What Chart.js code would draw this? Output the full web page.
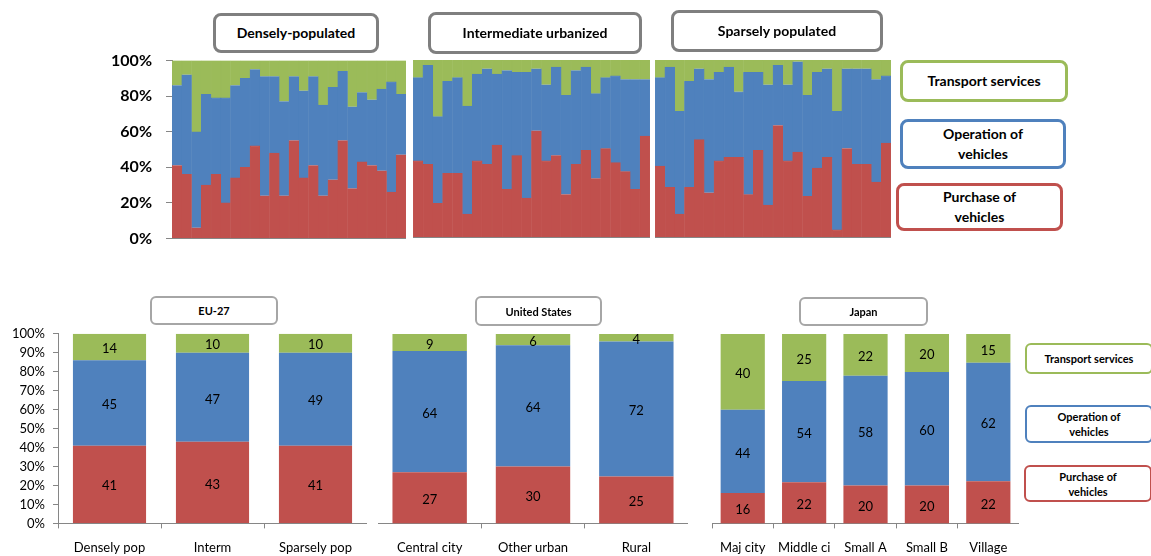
<!DOCTYPE html>
<html>
<head>
<meta charset="utf-8">
<title>Household transport spending</title>
<script src="https://cdn.jsdelivr.net/npm/chart.js@4.4.0/dist/chart.umd.min.js"></script>
<style>
  body { margin: 0; width: 1151px; height: 556px; background: #fff; position: relative; overflow: hidden; font-family: Lato, "Noto Sans", sans-serif; }
  .panel { position: absolute; }
  .box { position: absolute; box-sizing: border-box; background: #fff; display: flex; align-items: center; justify-content: center; text-align: center; font-weight: bold; color: #000; }
  .big { border-width: 3px; border-style: solid; border-radius: 8px; font-size: 14px; line-height: 20px; }
  .small { border-width: 2.5px; border-style: solid; border-radius: 6px; font-size: 11px; line-height: 15px; }
</style>
</head>
<body>

<div class="panel" style="left:90px;top:37px;width:316px;height:225px"><canvas id="dense"></canvas></div>
<div class="panel" style="left:413px;top:48px;width:237px;height:209px"><canvas id="interm"></canvas></div>
<div class="panel" style="left:655px;top:48px;width:236px;height:209px"><canvas id="sparse"></canvas></div>

<div class="box big" style="left:213px;top:13px;width:166px;height:40px;border-color:#7f7f7f">Densely-populated</div>
<div class="box big" style="left:428px;top:12px;width:214px;height:42px;border-color:#7f7f7f">Intermediate urbanized</div>
<div class="box big" style="left:671px;top:10px;width:212px;height:42px;border-color:#7f7f7f">Sparsely populated</div>

<div class="box big" style="left:900px;top:60px;width:168px;height:42px;border-color:#9BBB59">Transport services</div>
<div class="box big" style="left:900px;top:119px;width:166px;height:50px;border-color:#4F81BD">Operation of<br>vehicles</div>
<div class="box big" style="left:896px;top:183px;width:167px;height:48px;border-color:#C0504D">Purchase of<br>vehicles</div>

<div class="panel" style="left:0px;top:318px;width:367px;height:250px"><canvas id="eu"></canvas></div>
<div class="panel" style="left:378px;top:320px;width:310px;height:248px"><canvas id="us"></canvas></div>
<div class="panel" style="left:708px;top:320px;width:311px;height:248px"><canvas id="japan"></canvas></div>

<div class="box small" style="left:150px;top:296px;width:128px;height:29px;border-color:#a6a6a6">EU-27</div>
<div class="box small" style="left:475px;top:296px;width:127px;height:30px;border-color:#a6a6a6">United States</div>
<div class="box small" style="left:799px;top:297px;width:129px;height:29px;border-color:#a6a6a6">Japan</div>

<div class="box small" style="left:1025px;top:343px;width:128px;height:31px;border-color:#9BBB59">Transport services</div>
<div class="box small" style="left:1025px;top:405px;width:128px;height:38px;border-color:#4F81BD">Operation of<br>vehicles</div>
<div class="box small" style="left:1024px;top:465px;width:128px;height:37px;border-color:#C0504D">Purchase of<br>vehicles</div>

<script>
// series shared by all panels (bottom of the stack first)
const seriesNames = ['Purchase of vehicles', 'Operation of vehicles', 'Transport services'];
const seriesColors = ['#C0504D', '#4F81BD', '#9BBB59'];

// tick labels
const topTicks = [0, 20, 40, 60, 80, 100];
const bottomTicks = [0, 10, 20, 30, 40, 50, 60, 70, 80, 90, 100];

// top panels: 24 unlabelled bars each (share in %)
const topBars = ['1','2','3','4','5','6','7','8','9','10','11','12','13','14','15','16','17','18','19','20','21','22','23','24'];

const densePurchase  = [41,36,6,30,36,20,34,40,52,24,48,24,55,34,41,24,33,55,28,43,41,38,26,47];
const denseOperation = [45,56,54,51,43,59,52,50,43,67,43,53,36,49,50,51,52,39,46,39,37,46,62,34];
const denseTransport = [14,8,40,19,21,21,14,10,5,9,9,23,9,17,9,25,15,6,26,18,22,16,12,19];

const intermPurchase  = [43,41,19,36,36,13,43,41,52,27,46,22,60,43,46,24,41,49,33,50,42,37,27,57];
const intermOperation = [47,56,49,52,54,61,49,54,40,67,47,71,35,43,50,56,53,47,48,40,49,52,62,32];
const intermTransport = [10,3,32,12,10,26,8,5,8,6,7,7,5,14,4,20,6,4,19,10,9,11,11,11];

const sparsePurchase  = [40,28,13,28,55,25,43,45,45,24,49,18,63,43,48,23,39,45,4,50,41,41,31,53];
const sparseOperation = [50,68,58,60,40,64,50,51,37,69,44,68,34,43,51,57,54,50,67,45,54,54,58,38];
const sparseTransport = [10,4,29,12,5,11,7,4,18,7,7,14,3,14,1,20,7,5,29,5,5,5,11,9];

// bottom panels
const euCategories = ['Densely pop', 'Interm', 'Sparsely pop'];
const euPurchase  = [41, 43, 41];
const euOperation = [45, 47, 49];
const euTransport = [14, 10, 10];

const usCategories = ['Central city', 'Other urban', 'Rural'];
const usPurchase  = [27, 30, 25];
const usOperation = [64, 64, 72];
const usTransport = [9, 6, 4];

const japanCategories = ['Maj city', 'Middle ci', 'Small A', 'Small B', 'Village'];
const japanPurchase  = [16, 22, 20, 20, 22];
const japanOperation = [44, 54, 58, 60, 62];
const japanTransport = [40, 25, 22, 20, 15];

const FONT = 'Lato';
const AXIS_GREY = '#868686';

// writes the raw value in the middle of every segment
const segmentLabels = {
    id: 'segmentLabels',
    afterDatasetsDraw(chart) {
        const ctx = chart.ctx;
        ctx.save();
        ctx.font = '13px ' + FONT;
        ctx.fillStyle = '#000';
        ctx.textAlign = 'center';
        ctx.textBaseline = 'middle';
        chart.data.datasets.forEach((ds, i) => {
            chart.getDatasetMeta(i).data.forEach((bar, j) => {
                ctx.fillText(String(ds.rawValues[j]), bar.x, (bar.y + bar.base) / 2 + 2);
            });
        });
        ctx.restore();
    }
};

function topPanel(id, series, showAxis) {
    new Chart(document.getElementById(id), {
        type: 'bar',
        data: {
            labels: topBars,
            datasets: series.map((values, i) => ({
                label: seriesNames[i],
                data: values,
                backgroundColor: seriesColors[i],
                // same colour as the fill, only there to close the seams between bars
                borderColor: seriesColors[i],
                borderWidth: 0.6,
                barPercentage: 1,
                categoryPercentage: 1
            }))
        },
        options: {
            responsive: true,
            maintainAspectRatio: false,
            animation: false,
            layout: { padding: { top: 12, bottom: 12, left: 0, right: 0 } },
            plugins: { legend: { display: false }, tooltip: { enabled: false } },
            scales: {
                x: {
                    stacked: true,
                    ticks: { display: false },
                    grid: { display: false },
                    border: { display: true, color: AXIS_GREY }
                },
                y: {
                    display: showAxis,
                    stacked: true,
                    min: 0,
                    max: 100,
                    afterBuildTicks: s => { s.ticks = topTicks.map(v => ({ value: v })); },
                    afterFit: s => { if (showAxis) s.width = 82; },
                    ticks: {
                        callback: v => v + '%',
                        color: '#000',
                        padding: 14,
                        autoSkip: false,
                        font: { family: FONT, size: 16, weight: 'bold' }
                    },
                    grid: { drawOnChartArea: false, tickLength: 6, color: AXIS_GREY },
                    border: { color: AXIS_GREY }
                }
            }
        }
    });
}

function bottomPanel(id, categories, series, showAxis, barShare) {
    const totals = categories.map((c, j) => series.reduce((sum, s) => sum + s[j], 0));
    new Chart(document.getElementById(id), {
        type: 'bar',
        data: {
            labels: categories,
            datasets: series.map((values, i) => ({
                label: seriesNames[i],
                data: values.map((v, j) => v / totals[j] * 100),
                rawValues: values,
                backgroundColor: seriesColors[i],
                borderWidth: 0,
                barPercentage: barShare,
                categoryPercentage: 1
            }))
        },
        options: {
            responsive: true,
            maintainAspectRatio: false,
            animation: false,
            layout: { padding: { top: 14, bottom: 0, left: 0, right: 0 } },
            plugins: { legend: { display: false }, tooltip: { enabled: false } },
            scales: {
                x: {
                    stacked: true,
                    ticks: {
                        color: '#000',
                        padding: 12,
                        maxRotation: 0,
                        autoSkip: false,
                        font: { family: FONT, size: 13 }
                    },
                    grid: { drawOnChartArea: false, tickLength: 5, color: AXIS_GREY },
                    border: { color: AXIS_GREY }
                },
                y: {
                    display: showAxis,
                    stacked: true,
                    min: 0,
                    max: 100,
                    afterBuildTicks: s => { s.ticks = bottomTicks.map(v => ({ value: v })); },
                    afterFit: s => { if (showAxis) s.width = 58; },
                    ticks: {
                        callback: v => v + '%',
                        color: '#000',
                        padding: 8,
                        autoSkip: false,
                        font: { family: FONT, size: 13 }
                    },
                    grid: { drawOnChartArea: false, tickLength: 5, color: AXIS_GREY },
                    border: { color: AXIS_GREY }
                }
            }
        },
        plugins: [segmentLabels]
    });
}

topPanel('dense', [densePurchase, denseOperation, denseTransport], true);
topPanel('interm', [intermPurchase, intermOperation, intermTransport], false);
topPanel('sparse', [sparsePurchase, sparseOperation, sparseTransport], false);

bottomPanel('eu', euCategories, [euPurchase, euOperation, euTransport], true, 0.71);
bottomPanel('us', usCategories, [usPurchase, usOperation, usTransport], false, 0.72);
bottomPanel('japan', japanCategories, [japanPurchase, japanOperation, japanTransport], false, 0.72);
</script>
</body>
</html>
